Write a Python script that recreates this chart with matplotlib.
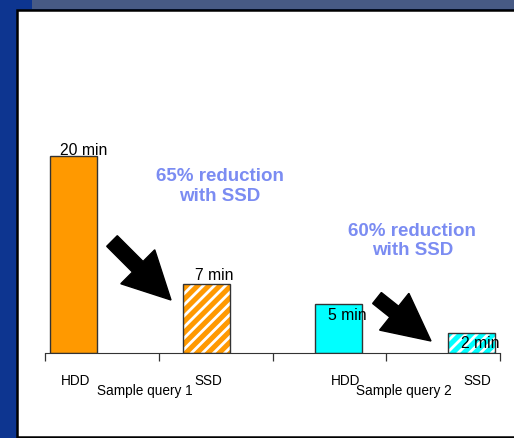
import matplotlib
matplotlib.use("Agg")
import matplotlib.pyplot as plt
from matplotlib.patches import Rectangle, Polygon
import numpy as np

plt.rcParams['font.family'] = ['Liberation Sans', 'DejaVu Sans']
plt.rcParams['hatch.linewidth'] = 2.0

# data
categories = ["HDD", "SSD", "HDD", "SSD"]
groups = ["Sample query 1", "Sample query 2"]
minutes = [20, 7, 5, 2]
value_labels = ["20 min", "7 min", "5 min", "2 min"]
notes = ["65% reduction\nwith SSD", "60% reduction\nwith SSD"]

# layout (axis units, 4 slots)
bar_x = [0.25, 1.42, 2.58, 3.75]
bar_w = 0.41
bar_colors = ["#ff9900", "#ff9900", "#00ffff", "#00ffff"]
hatched = [False, True, False, True]
cat_x = [0.27, 1.44, 2.64, 3.80]
group_x = [0.88, 3.15]
label_pos = [(0.34, 20.7), (1.49, 8.0), (2.66, 3.96), (3.83, 1.1)]
note_pos = [(1.54, 17.0), (3.23, 11.5)]

W, H = 514, 439
fig = plt.figure(figsize=(W / 100, H / 100), dpi=100)
fig.patch.set_facecolor("#0d3590")


def px(x, y):
    return (x / W, 1 - y / H)


# background pieces
fig.patches.append(Rectangle(px(32, 10), (W - 32) / W, 10 / H, transform=fig.transFigure,
                             facecolor="#475a85", edgecolor="none", zorder=0))
fig.patches.append(Rectangle(px(17, 437.5), (W - 17 + 10) / W, 426.5 / H, transform=fig.transFigure,
                             facecolor="white", edgecolor="black", linewidth=1.8, zorder=0))

ax = fig.add_axes([45 / W, (H - 354) / H, 455 / W, 246 / H])
ax.set_zorder(1)
ax.set_facecolor("none")
ax.set_xlim(0, 4)
ax.set_ylim(0, 25)

for x, v, c, h in zip(bar_x, minutes, bar_colors, hatched):
    if h:
        ax.bar(x, v, width=bar_w, color=c, edgecolor="white", hatch="///", linewidth=0, zorder=2)
        ax.bar(x, v, width=bar_w, fill=False, edgecolor="#333333", linewidth=1.0, zorder=3)
    else:
        ax.bar(x, v, width=bar_w, color=c, edgecolor="#333333", linewidth=1.0, zorder=2)

for (x, y), t in zip(label_pos, value_labels):
    ax.text(x, y, t, ha="center", va="center", fontsize=11.3, color="black", zorder=5)

for (x, y), t in zip(note_pos, notes):
    ax.text(x, y, t, ha="center", va="center", fontsize=13.5, fontweight="bold",
            color="#7b8cf2", linespacing=1.2)

for s in ["top", "right", "left"]:
    ax.spines[s].set_visible(False)
ax.spines["bottom"].set_color("#333333")
ax.set_yticks([])
ax.set_xticks([0, 1, 2, 3, 4])
ax.set_xticklabels([])
ax.tick_params(axis="x", length=6, width=0.9, color="#333333", direction="out")

trans = ax.get_xaxis_transform()
for x, t in zip(cat_x, categories):
    ax.text(x, -0.11, t, ha="center", va="center", fontsize=9.8, transform=trans)
for x, t in zip(group_x, groups):
    ax.text(x, -0.15, t, ha="center", va="center", fontsize=9.8, transform=trans)


def block_arrow(tail, tip, shaft_w, head_w, head_len):
    tail = np.array(tail, float)
    tip = np.array(tip, float)
    d = tip - tail
    d /= np.hypot(*d)
    p = np.array([d[1], -d[0]])
    base = tip - head_len * d
    pts = [tail + p * shaft_w / 2, base + p * shaft_w / 2, base + p * head_w / 2, tip,
           base - p * head_w / 2, base - p * shaft_w / 2, tail - p * shaft_w / 2]
    pts = [px(*q) for q in pts]
    fig.patches.append(Polygon(pts, closed=True, transform=fig.transFigure,
                               facecolor="black", edgecolor="black", zorder=4))


block_arrow((112, 242), (171, 301), 15, 48, 47)
block_arrow((377, 299), (431, 342), 14, 47, 47)

fig.savefig("out.png", dpi=100, facecolor=fig.get_facecolor())
